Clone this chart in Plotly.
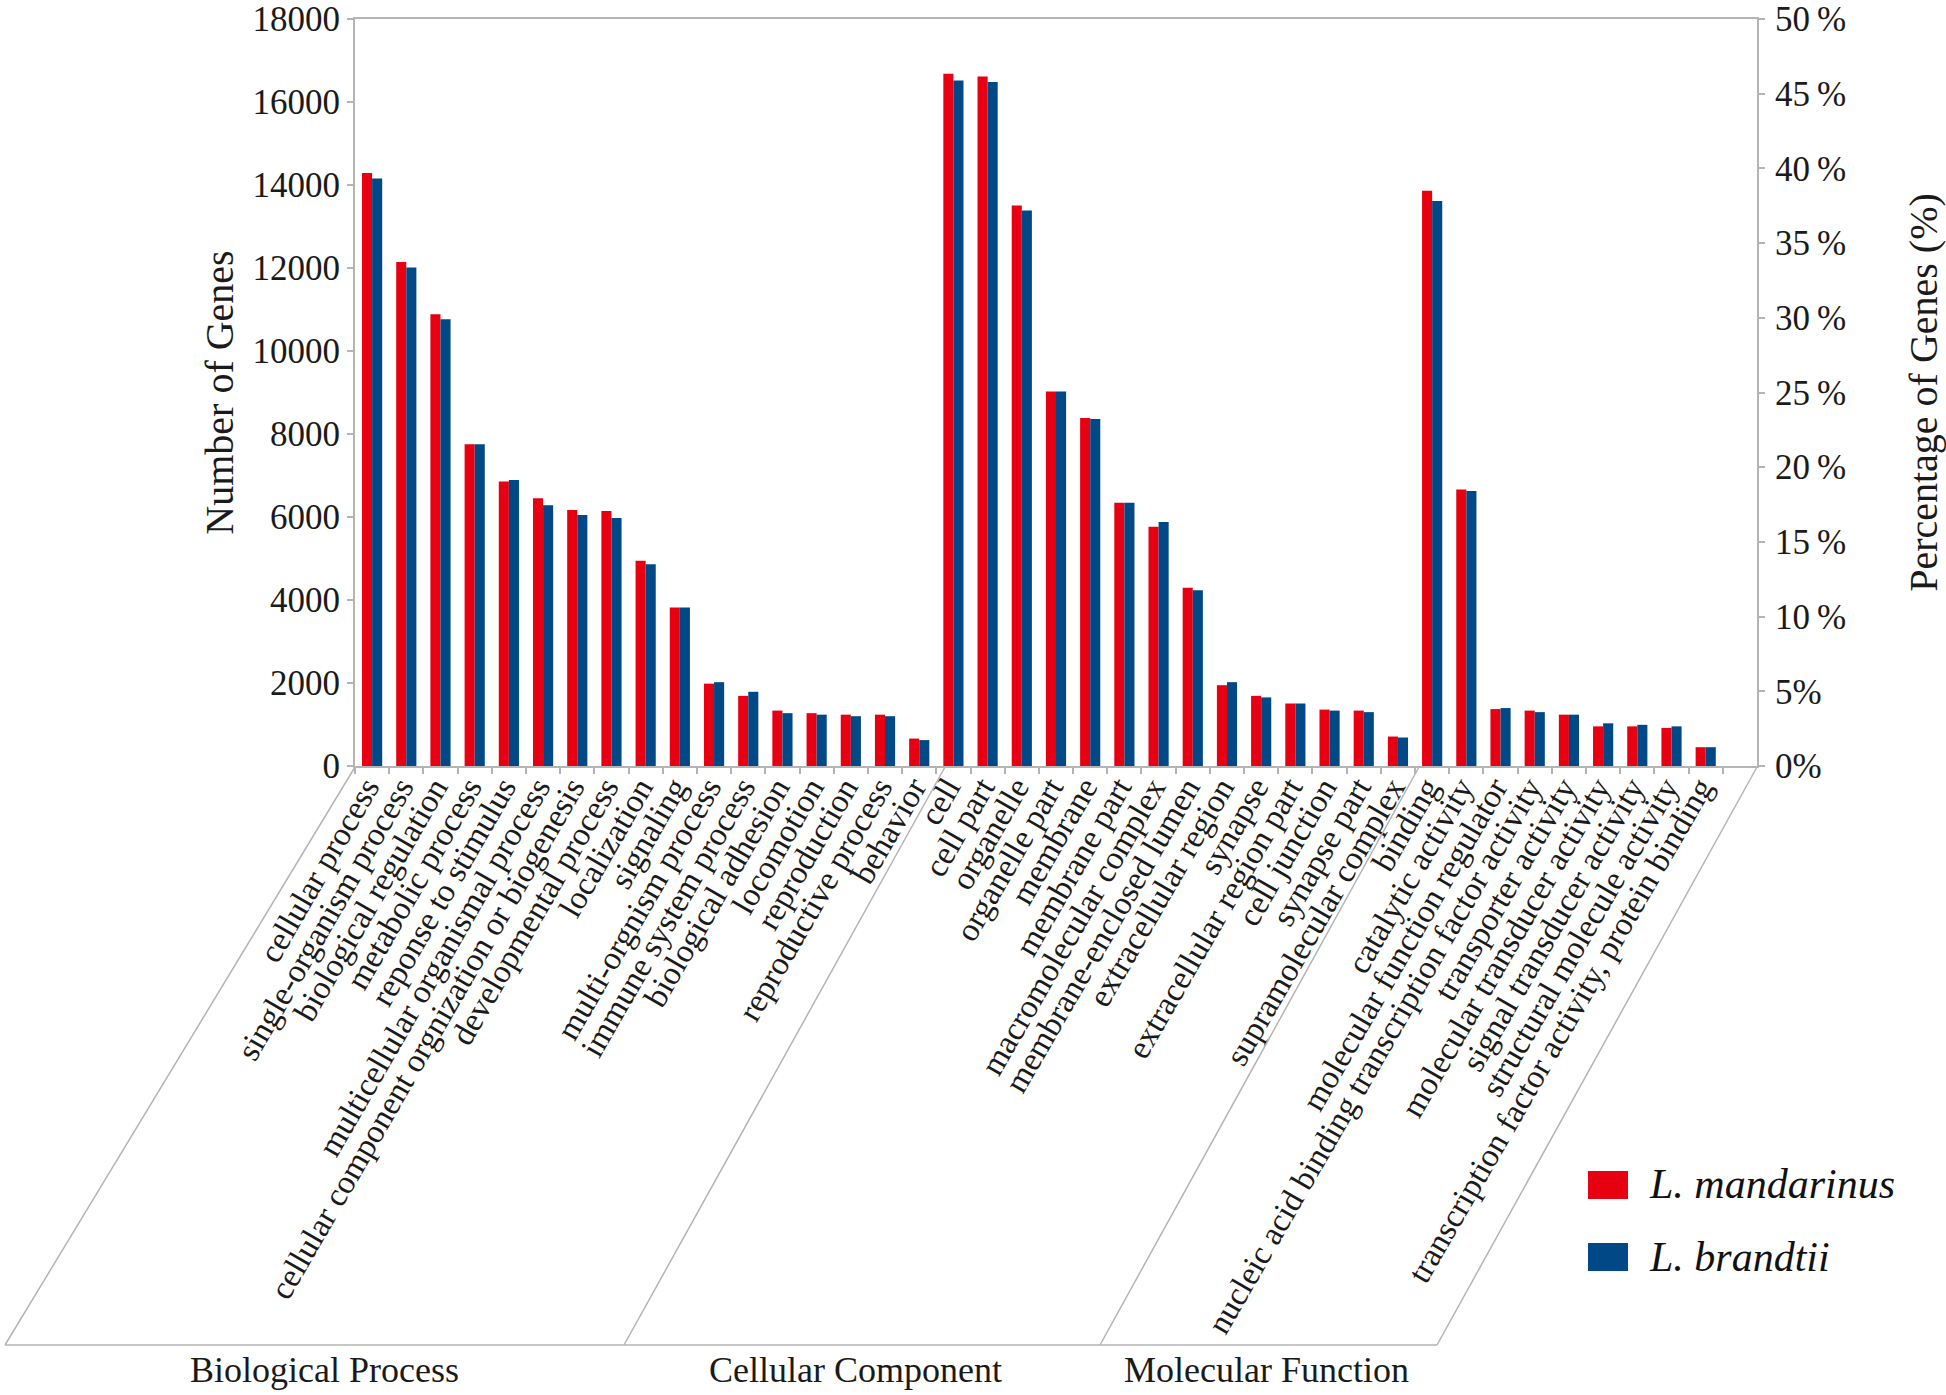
import plotly.graph_objects as go

categories = ["cellular process","single-organism process","biological regulation","metabolic process",
"reponse to stimulus","multicellular organismal process","cellular component orgnization or biogenesis",
"developmental process","localization","signaling","multi-orgnism process","immune system process",
"biological adhesion","locomotion","reproduction","reproductive process","behavior",
"cell","cell part","organelle","organelle part","membrane","membrane part","macromolecular complex",
"membrane-enclosed lumen","extracellular region","synapse","extracellular region part","cell junction",
"synapse part","supramolecular complex",
"binding","catalytic activity","molecular function regulator","nucleic acid binding transcription factor activity",
"transporter activity","molecular transducer activity","signal transducer activity","structural molecule activity",
"transcription factor activity, protein binding"]
mandarinus = [14290,12147,10886,7751,6857,6453,6171,6147,4947,3820,1984,1690,1335,1273,1237,1237,661,
16678,16616,13506,9025,8388,6343,5767,4298,1947,1690,1506,1359,1335,710,
13861,6661,1371,1335,1237,955,955,918,453]
brandtii = [14155,12012,10763,7751,6894,6282,6049,5976,4861,3820,2020,1788,1273,1237,1200,1200,624,
16518,16482,13384,9025,8363,6343,5878,4237,2020,1653,1506,1335,1298,686,
13616,6624,1396,1298,1237,1029,992,955,453]
left_ticks = [0,2000,4000,6000,8000,10000,12000,14000,16000,18000]
right_ticks = [0,5,10,15,20,25,30,35,40,45,50]
group_labels = ["Biological Process","Cellular Component","Molecular Function"]
series_names = ["L. mandarinus","L. brandtii"]
RED, BLUE, GREY = "#E60012", "#004986", "#B4B4B4"
INK = "#1a1a1a"
FONT = "Liberation Serif"

L, R, T, B = 355, 1757, 19, 766
px = lambda x: (x - L) / (R - L)
py = lambda y: (B - y) / (B - T)
axis_order = categories + [" "]

fig = go.Figure()
fig.add_bar(x=categories, y=mandarinus, name=series_names[0], marker_color=RED, marker_line_width=0)
fig.add_bar(x=categories, y=brandtii, name=series_names[1], marker_color=BLUE, marker_line_width=0)
# Invisible trace binding the right-hand percentage axis
fig.add_scatter(x=[categories[0]], y=[0], yaxis="y2", mode="markers", marker_opacity=0,
                showlegend=False, hoverinfo="skip")

shapes = []
for (x0, x1) in [(5, 355), (624, 945), (1100, 1419), (1437, 1757)]:
    shapes.append(dict(type="line", xref="paper", yref="paper", x0=px(x0), y0=py(1345), x1=px(x1), y1=py(767),
                       line=dict(color=GREY, width=1.5)))
shapes.append(dict(type="line", xref="paper", yref="paper", x0=px(5), y0=py(1345), x1=px(1437), y1=py(1345),
                   line=dict(color=GREY, width=1.5)))
for color, y0, y1 in [(RED, 1171, 1199), (BLUE, 1243, 1271)]:
    shapes.append(dict(type="rect", xref="paper", yref="paper", x0=px(1588), x1=px(1628), y0=py(y0), y1=py(y1),
                       fillcolor=color, line_width=0))

annotations = []
for text, cx in zip(group_labels, [324, 855, 1266]):
    annotations.append(dict(text=text, xref="paper", yref="paper", x=px(cx), y=py(1370), showarrow=False,
                            xanchor="center", yanchor="middle", font=dict(family=FONT, size=36, color=INK)))
for text, cy in zip(series_names, [1184, 1257]):
    annotations.append(dict(text=f"<i>{text}</i>", xref="paper", yref="paper", x=px(1647), y=py(cy), showarrow=False,
                            xanchor="left", yanchor="middle", font=dict(family=FONT, size=42, color="#111")))

fig.update_layout(
    width=1946, height=1395, autosize=False,
    margin=dict(l=L, r=1946 - R, t=T, b=1395 - B, pad=0),
    paper_bgcolor="white", plot_bgcolor="white",
    barmode="group", bargap=0.41, bargroupgap=0, showlegend=False,
    font=dict(family=FONT, color=INK),
    xaxis=dict(type="category", categoryorder="array", categoryarray=axis_order, range=[-0.5, 40.5],
               tickmode="array", tickvals=categories, ticktext=categories,
               tickangle=-60, tickson="boundaries", ticks="outside", ticklen=6, tickwidth=2, tickcolor=GREY,
               ticklabelstandoff=-13, ticklabelshift=-6,
               tickfont=dict(family=FONT, size=33, color=INK),
               showgrid=False, showline=True, linecolor=GREY, linewidth=2, mirror=True, automargin=False),
    yaxis=dict(range=[0, 18000], tickmode="array", tickvals=left_ticks, ticks="outside", ticklen=6, tickwidth=2,
               tickcolor=GREY, tickformat="d", tickfont=dict(family=FONT, size=35, color=INK),
               ticklabeloverflow="allow",
               showgrid=False, zeroline=False, showline=True, linecolor=GREY, linewidth=2, automargin=False,
               title=dict(text="Number of Genes", font=dict(family=FONT, size=40, color=INK), standoff=7)),
    yaxis2=dict(overlaying="y", side="right", range=[0, 50], tickmode="array", tickvals=right_ticks,
                ticktext=[f"{v}\u2009%" if v >= 10 else f"{v}%" for v in right_ticks],
                ticks="outside", ticklen=6, tickwidth=2, tickcolor=GREY,
                ticklabelstandoff=3, ticklabeloverflow="allow",
                tickfont=dict(family=FONT, size=35, color=INK),
                showgrid=False, zeroline=False, showline=True, linecolor=GREY, linewidth=2, automargin=False,
                title=dict(text="\u00a0\u00a0\u00a0\u00a0Percentage of Genes (%)", font=dict(family=FONT, size=40, color=INK), standoff=69)),
    shapes=shapes, annotations=annotations,
)
fig.write_html("out.html", post_script="document.body.style.margin='0';", config={"displayModeBar": False})
